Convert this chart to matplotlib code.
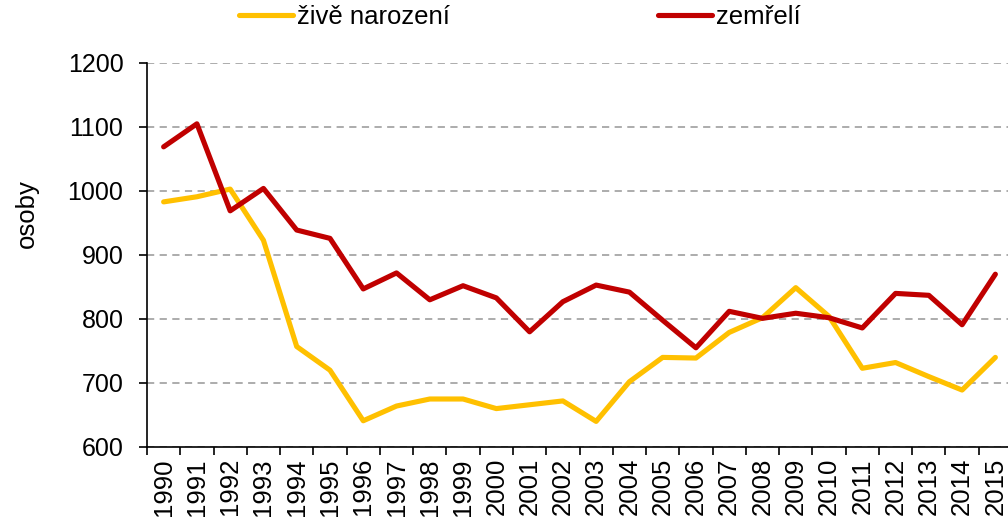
import matplotlib.pyplot as plt
import numpy as np

plt.rcParams['font.family'] = ['Liberation Sans', 'DejaVu Sans']

years = [str(y) for y in range(1990, 2016)]
narozeni = [983, 991, 1003, 923, 757, 720, 641, 664, 675, 675, 660, 666, 672, 640,
            702, 740, 739, 779, 802, 849, 804, 723, 732, 710, 689, 740]
zemreli = [1069, 1105, 969, 1004, 939, 926, 847, 872, 830, 852, 833, 780, 827, 853,
           842, 798, 755, 812, 801, 809, 802, 786, 840, 837, 791, 870]

FS = 18.5

fig = plt.figure(figsize=(10.08, 5.23), dpi=100)
ax = fig.add_axes([147 / 1008, (523 - 447) / 523, 865 / 1008, 384 / 523])

x = np.arange(len(years))
l1, = ax.plot(x, narozeni, color='#ffc000', lw=3.7, label='živě narození', solid_capstyle='round')
l2, = ax.plot(x, zemreli, color='#c00000', lw=3.7, label='zemřelí', solid_capstyle='round')

ax.set_xlim(-0.5, len(years) - 0.5)
ax.set_ylim(600, 1200)
ax.set_yticks(range(600, 1201, 100))
ax.grid(axis='y', color='#a6a6a6', ls=(0, (4, 3)), lw=1.3)
ax.set_axisbelow(True)

# major ticks at category boundaries, labels on minor ticks at centres
ax.set_xticks(np.arange(-0.5, len(years), 1))
ax.set_xticklabels([])
ax.set_xticks(x, minor=True)
ax.set_xticklabels(years, minor=True, rotation=90)
ax.tick_params(axis='x', which='minor', length=0, pad=8, labelsize=FS)
ax.tick_params(axis='x', which='major', length=6, width=1.2, direction='out')
ax.tick_params(axis='y', length=6, width=1.2, labelsize=18, pad=11)

for s in ['top', 'right']:
    ax.spines[s].set_visible(False)
for s in ['left', 'bottom']:
    ax.spines[s].set_linewidth(1.2)

ax.set_ylabel('osoby', fontsize=FS)
ax.yaxis.set_label_coords((39 - 147) / 865, (447 - 214) / 384)

ly = 1 - 17 / 523
for line, x0 in [(l1, 239), (l2, 658)]:
    fig.legend(handles=[line], loc='center left', bbox_to_anchor=(x0 / 1008, ly),
               frameon=False, fontsize=FS, handlelength=2.1, handletextpad=0.15,
               borderpad=0, borderaxespad=0)

fig.savefig('out.png', dpi=100)
